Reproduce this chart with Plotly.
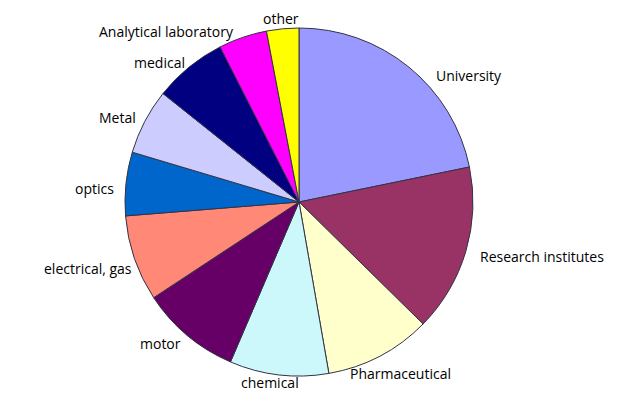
import plotly.graph_objects as go

categories = ["University", "Research institutes", "Pharmaceutical", "chemical", "motor",
              "electrical, gas", "optics", "Metal", "medical", "Analytical laboratory", "other"]
shares = [21.8, 15.6, 9.9, 9.2, 9.3, 8.0, 5.9, 6.1, 6.8, 4.5, 3.0]
colors = ["#9999FF", "#993366", "#FFFFCC", "#CCF7FB", "#660066",
          "#FF8877", "#0066CC", "#CCCCFF", "#000080", "#FF00FF", "#FFFF00"]
# label centre positions (pixels from top-left)
label_pos = [(469, 75), (542, 256), (401, 373), (270, 382), (161, 343),
             (88, 268), (94, 188), (117, 118), (159, 62), (166, 32), (281, 19)]

W, H = 634, 400
cx, cy, r = 299, 202, 174

fig = go.Figure(go.Pie(
    labels=categories,
    values=shares,
    sort=False,
    direction="clockwise",
    rotation=0,
    marker=dict(colors=colors, line=dict(color="#333344", width=1)),
    textinfo="none",
    showlegend=False,
    hoverinfo="label+percent",
    domain=dict(x=[(cx - r) / W, (cx + r) / W], y=[(H - cy - r) / H, (H - cy + r) / H]),
))

for lab, (px, py) in zip(categories, label_pos):
    fig.add_annotation(
        text=lab, x=px / W, y=1 - py / H, xref="paper", yref="paper",
        xanchor="center", yanchor="middle", showarrow=False,
        font=dict(family="Open Sans", size=14, color="#000000"),
    )

fig.update_layout(
    width=W, height=H,
    margin=dict(l=0, r=0, t=0, b=0),
    paper_bgcolor="white",
    plot_bgcolor="white",
)

fig.write_html("out.html", config={"displayModeBar": False},
               post_script="document.body.style.margin='0px';document.body.style.overflow='hidden';")
